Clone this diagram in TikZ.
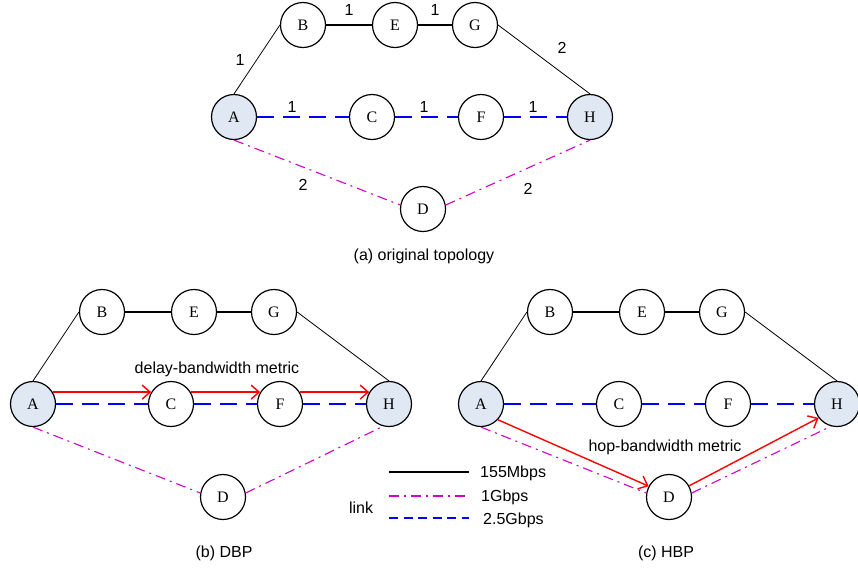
\documentclass[tikz,border=0pt]{standalone}
\usepackage{fontspec}
\setmainfont{Liberation Serif}
\newfontfamily\labelfont{Liberation Sans}
\usetikzlibrary{arrows.meta}
\definecolor{linkblue}{RGB}{0,0,255}
\definecolor{linkmag}{RGB}{210,0,200}
\definecolor{endfill}{RGB}{224,232,244}
\definecolor{pathred}{RGB}{255,0,0}
\tikzset{
  router/.style={circle,draw=black,line width=1.2pt,minimum size=45pt,inner sep=0pt,font=\fontsize{16}{16}\selectfont,fill=white},
  endpt/.style={router,fill=endfill},
  slowlink/.style={draw=black,line width=0.8pt},
  slowlinkb/.style={draw=black,line width=1.2pt},
  gigalink/.style={draw=linkmag,line width=1.1pt,dash pattern=on 10pt off 5pt on 2pt off 5pt},
  fastlink/.style={draw=linkblue,line width=1.5pt,dash pattern=on 17pt off 9pt},
  legfast/.style={draw=linkblue,line width=1.5pt,dash pattern=on 9pt off 5.5pt},
  route/.style={draw=pathred,line width=1.4pt,-{Straight Barb[length=8pt,width=14pt,line width=1.4pt]}},
  weight/.style={font=\labelfont\fontsize{16}{16}\selectfont,inner sep=0pt},
  caption/.style={font=\labelfont\fontsize{16}{16}\selectfont,inner sep=0pt}
}
\begin{document}
\begin{tikzpicture}[x=1pt,y=-1pt]
\useasboundingbox (0,0) rectangle (858,571);

% ---------- (a) original topology ----------
\node[endpt]  (aA) at (234,117) {A};
\node[router] (aB) at (303,25)  {B};
\node[router] (aE) at (395,25)  {E};
\node[router] (aG) at (475,25)  {G};
\node[router] (aC) at (372,117) {C};
\node[router] (aF) at (481,117) {F};
\node[endpt]  (aH) at (590,117) {H};
\node[router] (aD) at (423,209) {D};

\draw[slowlink]  (aA.north) -- (aB.west);
\draw[slowlinkb] (aB) -- (aE);
\draw[slowlinkb] (aE) -- (aG);
\draw[slowlink]  (aG.east) -- (aH.north);
\draw[fastlink]  (aA) -- (aC);
\draw[fastlink]  (aC) -- (aF);
\draw[fastlink]  (aF) -- (aH);
\draw[gigalink]  (aA.south) -- (aD.170);
\draw[gigalink]  (aD.10) -- (aH.south);

\node[weight] (wAB) at (240,60)  {1};
\node[weight] (wBE) at (349,10)  {1};
\node[weight] (wEG) at (435,10)  {1};
\node[weight] (wGH) at (562,48)  {2};
\node[weight] (wAC) at (292,107) {1};
\node[weight] (wCF) at (424,107) {1};
\node[weight] (wFH) at (533,107) {1};
\node[weight] (wAD) at (303,185) {2};
\node[weight] (wDH) at (528,189) {2};

\node[caption] (capa) at (424,256) {(a) original topology};

% ---------- (b) DBP ----------
\node[endpt]  (bA) at (33,404)  {A};
\node[router] (bB) at (102,312) {B};
\node[router] (bE) at (194,312) {E};
\node[router] (bG) at (274,312) {G};
\node[router] (bC) at (171,404) {C};
\node[router] (bF) at (280,404) {F};
\node[endpt]  (bH) at (389,404) {H};
\node[router] (bD) at (223,497) {D};

\draw[slowlink]  (bA.north) -- (bB.west);
\draw[slowlinkb] (bB) -- (bE);
\draw[slowlinkb] (bE) -- (bG);
\draw[slowlink]  (bG.east) -- (bH.north);
\draw[fastlink]  (bA) -- (bC);
\draw[fastlink]  (bC) -- (bF);
\draw[fastlink]  (bF) -- (bH);
\draw[gigalink]  (bA.south) -- (bD.170);
\draw[gigalink]  (bD.10) -- (bH.-105);

\draw[route] (bA.31) -- (bC.149);
\draw[route] (bC.31) -- (bF.149);
\draw[route] (bF.31) -- (bH.149);
\node[caption] (dbm) at (217,369) {delay-bandwidth metric};

\node[caption] (capb) at (224,553) {(b) DBP};

% ---------- (c) HBP ----------
\node[endpt]  (cA) at (481,404) {A};
\node[router] (cB) at (550,312) {B};
\node[router] (cE) at (642,312) {E};
\node[router] (cG) at (722,312) {G};
\node[router] (cC) at (619,404) {C};
\node[router] (cF) at (728,404) {F};
\node[endpt]  (cH) at (837,404) {H};
\node[router] (cD) at (669,497) {D};

\draw[slowlink]  (cA.north) -- (cB.west);
\draw[slowlinkb] (cB) -- (cE);
\draw[slowlinkb] (cE) -- (cG);
\draw[slowlink]  (cG.east) -- (cH.north);
\draw[fastlink]  (cA) -- (cC);
\draw[fastlink]  (cC) -- (cF);
\draw[fastlink]  (cF) -- (cH);
\draw[gigalink]  (cA.south) -- (cD.170);
\draw[gigalink]  (cD.10) -- (cH.-105);

\draw[route] (cA.-43) -- (cD.152);
\draw[route] (cD.29) -- (cH.217);
\node[caption] (hbm) at (665,447) {hop-bandwidth metric};

\node[caption] (capc) at (666,553) {(c) HBP};

% ---------- legend ----------
\coordinate (l1a) at (389,472); \coordinate (l1b) at (469,472);
\coordinate (l2a) at (389,496); \coordinate (l2b) at (469,496);
\coordinate (l3a) at (389,518); \coordinate (l3b) at (469,518);
\draw[slowlinkb] (l1a) -- (l1b);
\draw[gigalink]  (l2a) -- (l2b);
\draw[legfast]   (l3a) -- (l3b);
\node[caption,anchor=west] (leg1) at (480,473) {155Mbps};
\node[caption,anchor=west] (leg2) at (481,497) {1Gbps};
\node[caption,anchor=west] (leg3) at (483,520) {2.5Gbps};
\node[caption] (legk) at (361,508) {link};
\end{tikzpicture}
\end{document}
